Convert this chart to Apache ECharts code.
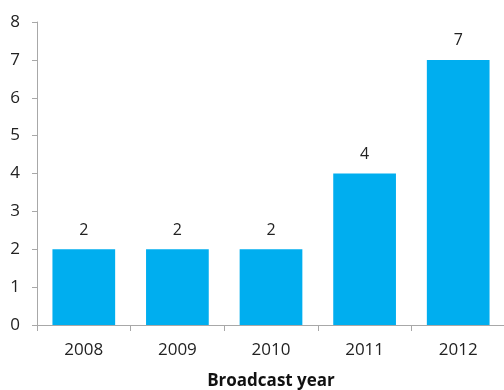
<!DOCTYPE html>
<html>
<head>
<meta charset="utf-8">
<script src="https://cdn.jsdelivr.net/npm/echarts@6/dist/echarts.min.js"></script>
<style>html,body{margin:0;padding:0;background:#fff}#c{width:504px;height:390px}</style>
</head>
<body>
<div id="c"></div>
<script>
const categories = ['2008', '2009', '2010', '2011', '2012'];
const values = [2, 2, 2, 4, 7];
const yTicks = [0, 1, 2, 3, 4, 5, 6, 7, 8];

const chart = echarts.init(document.getElementById('c'), null, {renderer: 'canvas'});
const font = '"Open Sans", "Noto Sans", sans-serif';
chart.setOption({
  animation: false,
  grid: {left: 37, right: -1, top: 22, bottom: 65, containLabel: false, outerBoundsMode: 'none'},
  xAxis: {
    type: 'category',
    data: categories,
    name: 'Broadcast year',
    nameLocation: 'middle',
    nameGap: 48,
    nameTextStyle: {fontFamily: font, fontWeight: 'bold', fontSize: 17, color: '#111'},
    axisLine: {lineStyle: {color: '#a8a8a8', width: 1}},
    axisTick: {show: true, length: 6, lineStyle: {color: '#a8a8a8'}},
    axisLabel: {fontFamily: font, fontSize: 17, color: '#222', margin: 17}
  },
  yAxis: {
    type: 'value',
    min: yTicks[0],
    max: yTicks[yTicks.length - 1],
    interval: 1,
    axisLine: {show: true, lineStyle: {color: '#a8a8a8', width: 1}},
    axisTick: {show: true, length: 5, lineStyle: {color: '#a8a8a8'}},
    splitLine: {show: false},
    axisLabel: {fontFamily: font, fontSize: 17, color: '#222', margin: 17}
  },
  series: [{
    type: 'bar',
    data: values,
    barWidth: '67%',
    itemStyle: {color: '#00AEEF'},
    label: {show: true, position: 'top', distance: 11, fontFamily: font, fontSize: 16, color: '#222'}
  }]
});
</script>
</body>
</html>
